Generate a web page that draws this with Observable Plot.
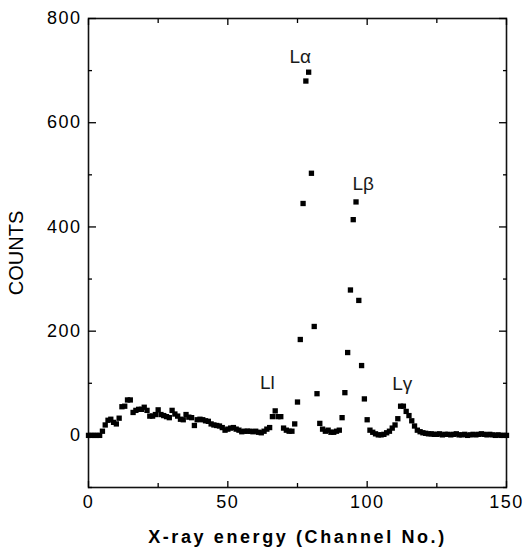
<!DOCTYPE html>
<html>
<head>
<meta charset="utf-8">
<script src="https://cdn.jsdelivr.net/npm/d3@7"></script>
<script src="https://cdn.jsdelivr.net/npm/@observablehq/plot@0.6"></script>
<style>
  body { margin: 0; background: #fff; }
  #chart svg { font-family: "Liberation Sans", Arial, sans-serif; }
  #chart g[aria-label="x-axis tick label"] text,
  #chart g[aria-label="y-axis tick label"] text { letter-spacing: 1.5px; }
  #chart g[aria-label="x-axis label"] text { font-weight: bold; letter-spacing: 2.6px; }
</style>
</head>
<body>
<div id="chart"></div>
<script>
// Channel numbers 0..150 and counts
const channels = d3.range(0, 151);
const counts = [
  0, 0, 0, 0, 0, 8, 20, 29, 31, 25,          // 0-9
  22, 33, 55, 56, 68, 68, 44, 48, 50, 50,    // 10-19
  54, 48, 37, 37, 40, 49, 40, 38, 36, 34,    // 20-29
  48, 41, 37, 31, 30, 40, 35, 34, 19, 30,    // 30-39
  31, 30, 28, 27, 22, 20, 19, 18, 15, 10,    // 40-49
  12, 14, 15, 12, 10, 7, 8, 8, 8, 7,         // 50-59
  8, 6, 5, 8, 12, 15, 36, 47, 36, 36,        // 60-69
  14, 10, 8, 8, 22, 64, 184, 445, 680, 697,  // 70-79
  503, 209, 80, 23, 12, 8, 10, 6, 6, 8,      // 80-89
  10, 34, 82, 159, 279, 414, 448, 259, 134, 70, // 90-99
  30, 10, 6, 3, 1, 1, 2, 5, 8, 14,           // 100-109
  20, 32, 56, 56, 46, 38, 28, 18, 10, 7,     // 110-119
  5, 4, 3, 3, 2, 2, 3, 1, 2, 2,              // 120-129
  1, 2, 3, 1, 1, 2, 0, 1, 2, 1,              // 130-139
  2, 3, 2, 1, 2, 1, 0, 1, 0, 0,              // 140-149
  0                                          // 150
];

// Peak annotations
const peakLabels = ["L\u03B1", "L\u03B2", "Ll", "L\u03B3"];
const peakX = [76, 98.6, 64.2, 112.6];
const peakY = [726, 482, 100, 98];

// Axis ticks
const xMajor = [0, 50, 100, 150];
const xMinor = [25, 75, 125];
const yMajor = [0, 200, 400, 600, 800];
const yMinor = [-100, 100, 300, 500, 700];

const data = channels.map((c, i) => ({channel: c, count: counts[i]}));
const notes = peakLabels.map((t, i) => ({t, x: peakX[i], y: peakY[i]}));

const chart = Plot.plot({
  width: 524,
  height: 553,
  marginLeft: 88,
  marginRight: 18,
  marginTop: 18,
  marginBottom: 66,
  style: {fontSize: "18px", color: "#000", background: "#fff"},
  x: {domain: [0, 150]},
  y: {domain: [-100, 800]},
  marks: [
    Plot.frame({stroke: "#111", strokeWidth: 1.6}),
    // labels
    Plot.axisX({ticks: xMajor, tickSize: 0, tickPadding: 8, tickFormat: d3.format("d"),
                label: "X-ray energy (Channel No.)", labelAnchor: "center", labelArrow: "none",
                labelOffset: 55, fontSize: 18}),
    Plot.axisY({ticks: yMajor, tickSize: 0, tickPadding: 7, tickFormat: d3.format("d"),
                label: "COUNTS", labelAnchor: "center", labelArrow: "none", labelOffset: 80, fontSize: 18}),
    // inward ticks
    Plot.axisX({anchor: "bottom", ticks: xMajor, tickSize: -6, text: null, label: null, strokeWidth: 1.3}),
    Plot.axisX({anchor: "bottom", ticks: xMinor, tickSize: -4, text: null, label: null, strokeWidth: 1.3}),
    Plot.axisX({anchor: "top", ticks: xMajor, tickSize: -6, text: null, label: null, strokeWidth: 1.3}),
    Plot.axisX({anchor: "top", ticks: xMinor, tickSize: -4, text: null, label: null, strokeWidth: 1.3}),
    Plot.axisY({anchor: "left", ticks: yMajor, tickSize: -8, text: null, label: null, strokeWidth: 1.3}),
    Plot.axisY({anchor: "left", ticks: yMinor, tickSize: -4, text: null, label: null, strokeWidth: 1.3}),
    Plot.axisY({anchor: "right", ticks: yMajor, tickSize: -8, text: null, label: null, strokeWidth: 1.3}),
    Plot.axisY({anchor: "right", ticks: yMinor, tickSize: -4, text: null, label: null, strokeWidth: 1.3}),
    Plot.dot(data, {x: "channel", y: "count", symbol: "square", r: 3, fill: "#000", stroke: null}),
    Plot.text(notes, {x: "x", y: "y", text: "t", fontSize: 19, fill: "#1a1a1a"})
  ]
});
// y-axis title is slightly larger than tick labels in the reference
chart.querySelectorAll('g[aria-label="y-axis label"] text').forEach(t => t.setAttribute("font-size", 20));
document.getElementById("chart").appendChild(chart);
</script>
</body>
</html>
